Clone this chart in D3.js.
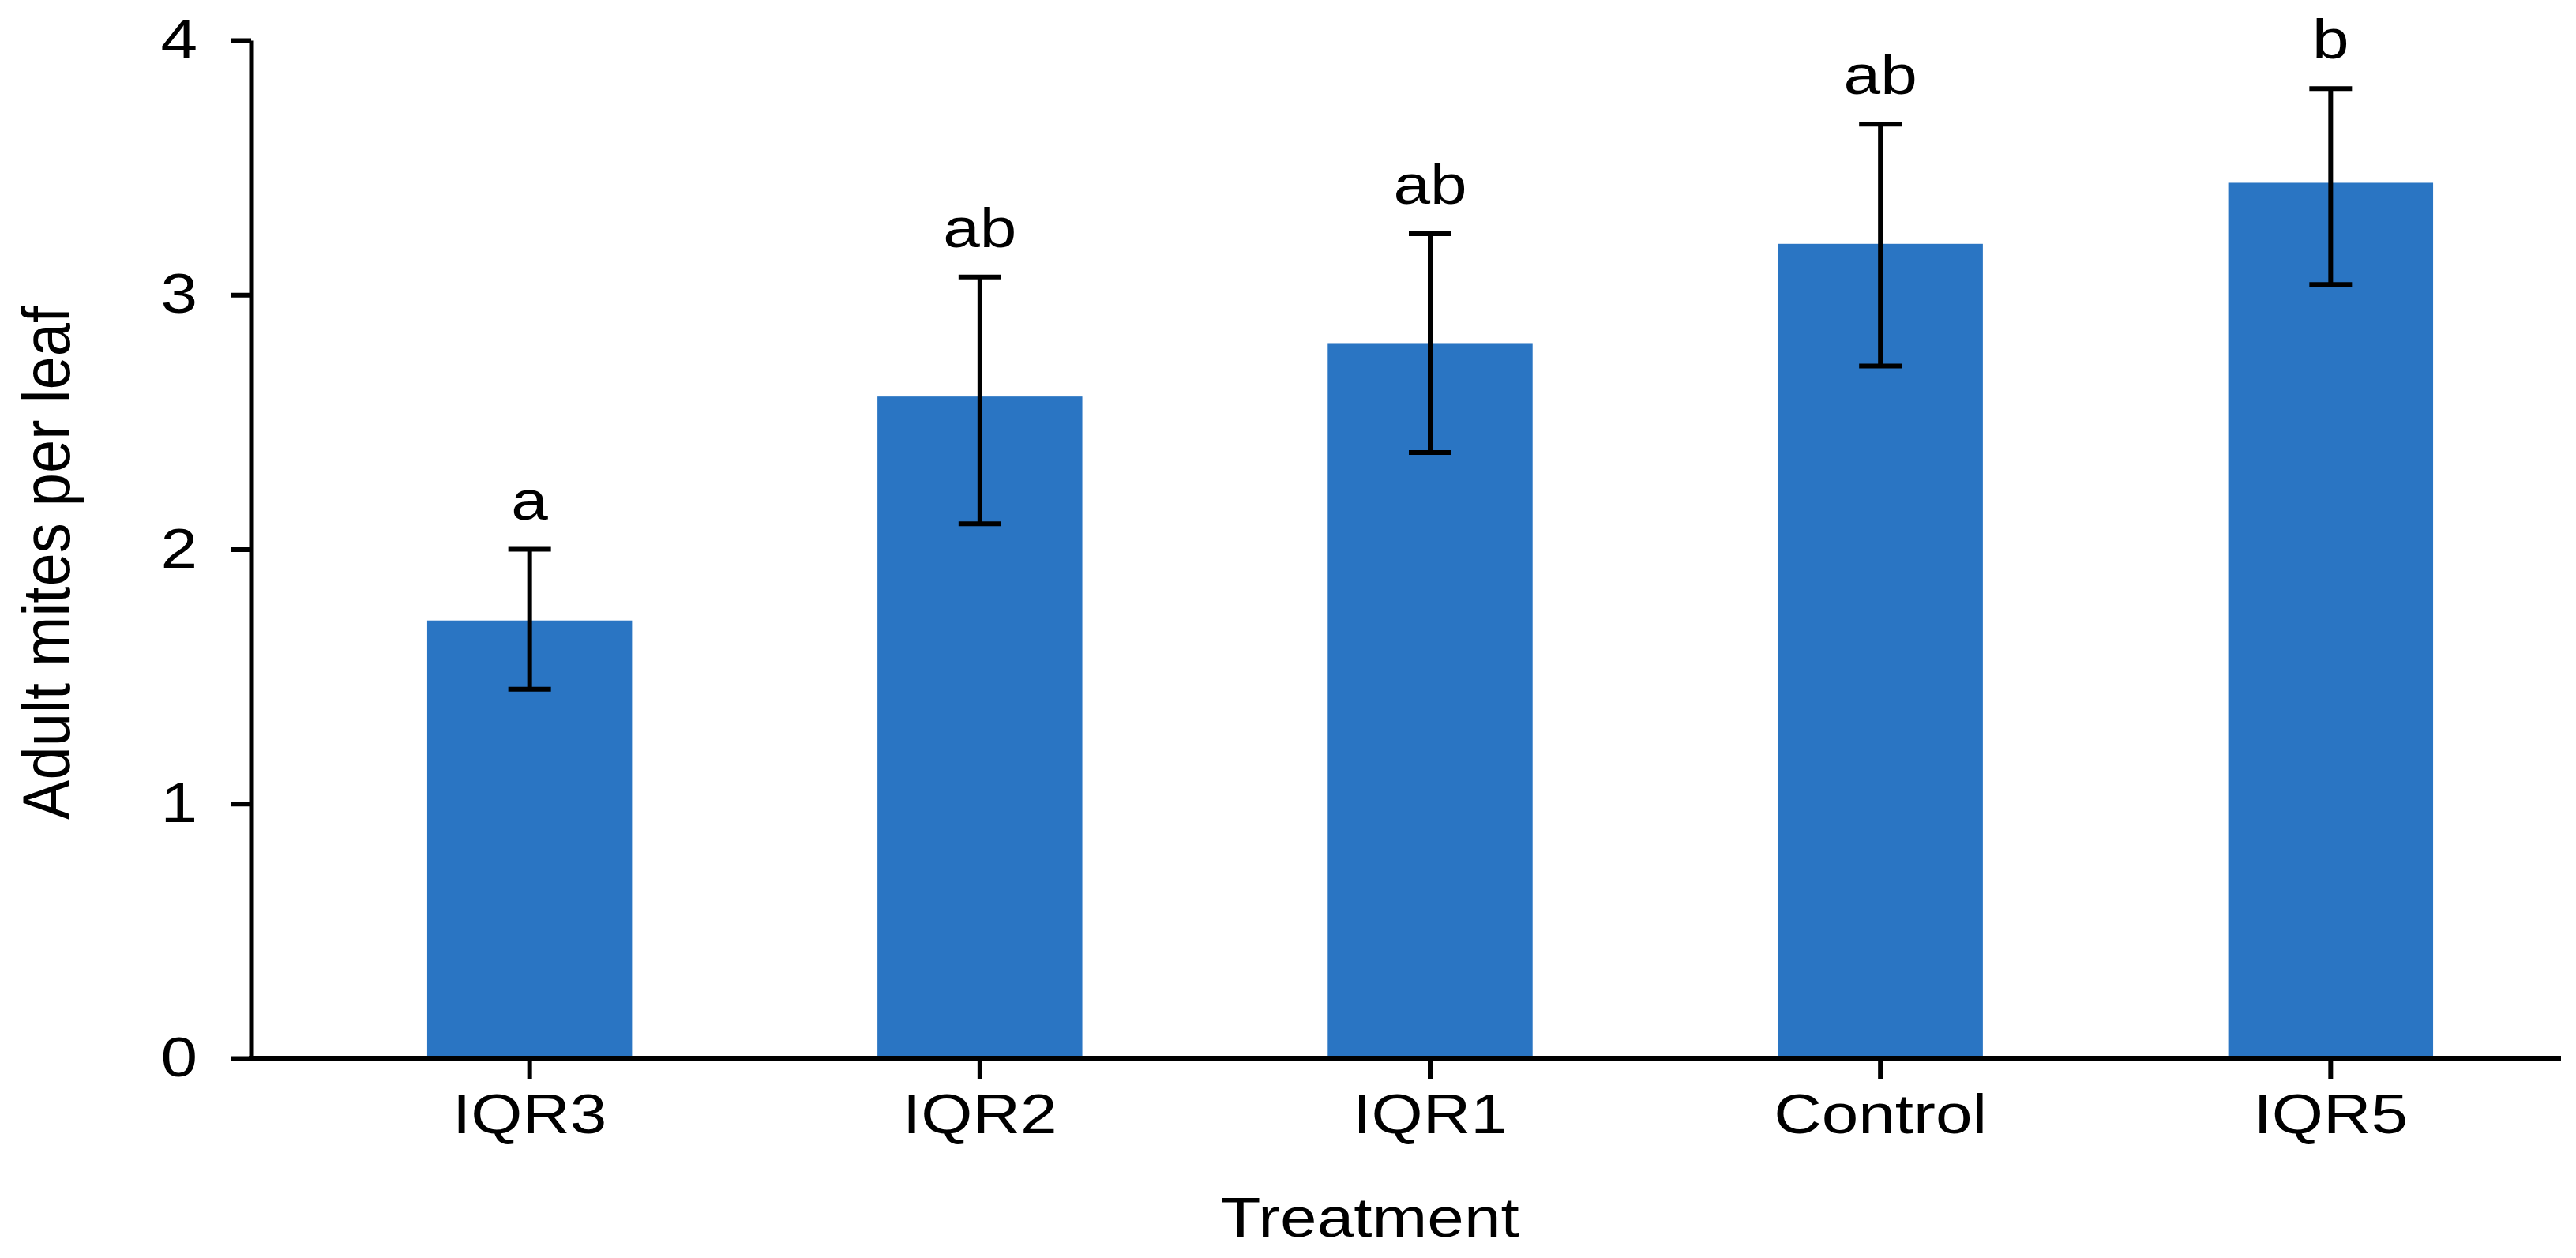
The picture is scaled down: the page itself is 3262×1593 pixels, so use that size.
<!DOCTYPE html>
<html>
<head>
<meta charset="utf-8">
<script src="https://cdn.jsdelivr.net/npm/d3@7"></script>
<style>
  body { margin: 0; background: #fff; }
  text { font-family: "Liberation Sans", Arial, sans-serif; fill: #000; }
</style>
</head>
<body>
<script>
// data
var treatments = ["IQR3", "IQR2", "IQR1", "Control", "IQR5"];
var means      = [1.72, 2.60, 2.81, 3.20, 3.44];
var upper      = [2.00, 3.07, 3.24, 3.67, 3.81];
var lower      = [1.45, 2.10, 2.38, 2.72, 3.04];
var letters    = ["a", "ab", "ab", "ab", "b"];
var yTicks     = [0, 1, 2, 3, 4];

var width = 3262, height = 1593;
var plot = {left: 318, right: 3243, top: 51, bottom: 1340};
var fontSize = 71;
var widen = 1.18;   // the source figure's lettering is a little wider than Arial

var svg = d3.select("body")
            .append("svg")
            .attr("width", width)
            .attr("height", height);

var x = d3.scaleBand()
          .domain(treatments)
          .range([plot.left + 69, plot.right - 8])
          .paddingInner(0.545)
          .paddingOuter(0.27);

var y = d3.scaleLinear()
          .domain([0, 4])
          .range([plot.bottom, plot.top]);

var rows = treatments.map(function(t, i) {
  return {name: t, mean: means[i], hi: upper[i], lo: lower[i], letter: letters[i]};
});

// stretch text sideways along its baseline
function stretch(sel) {
  sel.each(function() {
    var w = this.getComputedTextLength();
    d3.select(this)
      .attr("textLength", w * widen)
      .attr("lengthAdjust", "spacingAndGlyphs");
  });
}

// bars
svg.selectAll("rect.bar")
   .data(rows)
   .enter().append("rect")
   .attr("class", "bar")
   .attr("x", function(d) { return x(d.name); })
   .attr("y", function(d) { return y(d.mean); })
   .attr("width", x.bandwidth())
   .attr("height", function(d) { return y(0) - y(d.mean); })
   .style("fill", "#2a75c3");

// error bars
var cap = 27;
var err = svg.selectAll("g.err")
             .data(rows)
             .enter().append("g")
             .attr("class", "err")
             .attr("transform", function(d) { return "translate(" + (x(d.name) + x.bandwidth() / 2) + ",0)"; })
             .style("stroke", "#000")
             .style("stroke-width", 6);

err.append("line")
   .attr("x1", 0).attr("x2", 0)
   .attr("y1", function(d) { return y(d.lo); })
   .attr("y2", function(d) { return y(d.hi); });
err.append("line")
   .attr("x1", -cap).attr("x2", cap)
   .attr("y1", function(d) { return y(d.hi); })
   .attr("y2", function(d) { return y(d.hi); });
err.append("line")
   .attr("x1", -cap).attr("x2", cap)
   .attr("y1", function(d) { return y(d.lo); })
   .attr("y2", function(d) { return y(d.lo); });

// significance letters
svg.selectAll("text.letter")
   .data(rows)
   .enter().append("text")
   .attr("class", "letter")
   .attr("x", function(d) { return x(d.name) + x.bandwidth() / 2; })
   .attr("y", function(d) { return y(d.hi) - 38; })
   .attr("text-anchor", "middle")
   .style("font-size", fontSize + "px")
   .text(function(d) { return d.letter; });

// axes
var yAxis = d3.axisLeft(y)
              .tickValues(yTicks)
              .tickFormat(d3.format("d"))
              .tickSize(26)
              .tickSizeOuter(0)
              .tickPadding(42);

var gy = svg.append("g")
            .attr("class", "y axis")
            .attr("transform", "translate(" + plot.left + ",0)")
            .call(yAxis);

var xAxis = d3.axisBottom(x)
              .tickSize(26)
              .tickSizeOuter(0)
              .tickPadding(19);

var gx = svg.append("g")
            .attr("class", "x axis")
            .attr("transform", "translate(0," + plot.bottom + ")")
            .call(xAxis);

// x axis line spans the whole plot
gx.select(".domain").attr("d", "M" + (plot.left - 3) + ",0H" + plot.right);

svg.selectAll(".axis .domain, .axis .tick line")
   .style("stroke", "#000")
   .style("stroke-width", 6);
svg.selectAll(".axis text")
   .style("font-size", fontSize + "px")
   .style("font-family", "'Liberation Sans', Arial, sans-serif")
   .style("fill", "#000");

// axis titles
svg.append("text")
   .attr("transform", "translate(88,713) scale(1.12,1) rotate(-90)")
   .attr("text-anchor", "middle")
   .style("font-size", "76px")
   .text("Adult mites per leaf");

var xTitle = svg.append("text")
   .attr("x", (plot.left + plot.right) / 2 - 46)
   .attr("y", 1566)
   .attr("text-anchor", "middle")
   .style("font-size", fontSize + "px")
   .text("Treatment");

stretch(svg.selectAll(".axis text"));
stretch(svg.selectAll("text.letter"));
stretch(xTitle);
</script>
</body>
</html>
